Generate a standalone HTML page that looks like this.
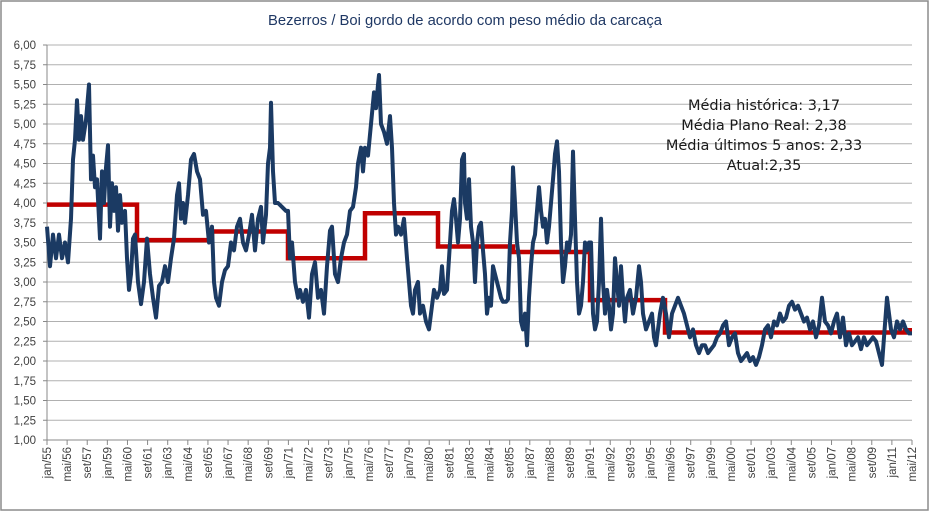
<!DOCTYPE html>
<html><head><meta charset="utf-8"><style>
body{margin:0;background:#fff}
svg{display:block}
text{font-family:"Liberation Sans",sans-serif}
.box text{font-family:"DejaVu Sans",sans-serif}
</style></head><body>
<svg id="s" width="930" height="512" xmlns="http://www.w3.org/2000/svg">
<rect x="1" y="1" width="927" height="509" fill="#fff" stroke="#8c8c8c" stroke-width="1.5"/>
<text x="465" y="25" text-anchor="middle" font-size="14.8" fill="#1f3864">Bezerros / Boi gordo de acordo com peso médio da carcaça</text>
<g id="grid"></g>
<g id="labels" font-size="11.5" fill="#404040"></g>
<polyline id="red" fill="none" stroke="#c00000" stroke-width="4.5"/>
<polyline id="blue" fill="none" stroke="#1b3a63" stroke-width="4" stroke-linejoin="round"/>
<g class="box" font-size="14.5" fill="#1a1a1a" text-anchor="middle">
<text x="764" y="110">Média histórica: 3,17</text>
<text x="764" y="130">Média Plano Real: 2,38</text>
<text x="764" y="150">Média últimos 5 anos: 2,33</text>
<text x="764" y="170">Atual:2,35</text>
</g>
</svg>
<script>
const NS="http://www.w3.org/2000/svg";
const y=v=>440-(v-1)*79;
const g=document.getElementById('grid'),L=document.getElementById('labels');
function el(t,a,p,txt){const e=document.createElementNS(NS,t);for(const k in a)e.setAttribute(k,a[k]);if(txt)e.textContent=txt;p.appendChild(e);return e;}
for(let i=0;i<=20;i++){const v=1+i*0.25,yy=y(v);
 if(i>0)el('line',{x1:47,x2:912,y1:yy,y2:yy,stroke:'#b0b0b0','stroke-width':1},g);
 el('line',{x1:43,x2:47,y1:yy,y2:yy,stroke:'#888'},g);
 el('text',{x:36,y:yy+4,'text-anchor':'end'},L,v.toFixed(2).replace('.',','));}
el('line',{x1:47,x2:47,y1:45,y2:440,stroke:'#888'},g);
el('line',{x1:47,x2:912,y1:440,y2:440,stroke:'#888'},g);
const mon=['jan','mai','set'];
for(let i=0;i<=43;i++){const x=47+i*865/43;const m=i*16;const yr=(55+Math.floor(m/12))%100;
 el('line',{x1:x,x2:x,y1:440,y2:445,stroke:'#888'},g);
 const lab=mon[(m%12)/4]+'/'+String(yr).padStart(2,'0');
 el('text',{x:0,y:0,'text-anchor':'end',transform:`translate(${x+4},447) rotate(-90)`},L,lab);}
const red=[[47,3.98],[137,3.98],[137,3.53],[212,3.53],[212,3.64],[288,3.64],[288,3.30],[365,3.30],[365,3.87],[438,3.87],[438,3.45],[513,3.45],[513,3.38],[590,3.38],[590,2.77],[665,2.77],[665,2.36],[905,2.36],[905,2.39],[912,2.39]];
document.getElementById('red').setAttribute('points',red.map(p=>p[0]+','+y(p[1])).join(' '));
const b=[47,3.7,50,3.2,53,3.6,56,3.3,59,3.6,62,3.3,65,3.5,68,3.25,71,3.8,73,4.55,75,4.8,77,5.3,79,4.8,81,5.1,83,4.8,86,5.05,89,5.5,91,4.3,93,4.6,95,4.2,97,4.3,100,3.55,102,4.4,104,4.0,106,4.45,108,4.73,110,3.7,112,4.25,114,3.9,116,4.2,118,3.65,120,4.1,122,3.75,125,3.9,127,3.3,129,2.9,131,3.1,133,3.55,135,3.6,138,3.0,141,2.72,144,3.0,147,3.55,150,3.1,153,2.8,156,2.55,159,2.95,162,3.0,165,3.2,168,3.0,171,3.3,174,3.55,177,4.1,179,4.25,181,3.8,183,4.0,185,3.75,188,4.1,191,4.55,194,4.62,197,4.4,200,4.3,203,3.85,206,3.9,209,3.5,212,3.7,214,3.0,216,2.8,219,2.7,222,3.0,225,3.15,228,3.2,231,3.5,234,3.4,237,3.7,240,3.8,243,3.5,246,3.4,249,3.6,252,3.85,255,3.4,258,3.8,261,3.95,263,3.5,266,3.85,268,4.5,270,4.7,271,5.27,273,4.4,275,4.0,278,4.0,282,3.95,286,3.9,288,3.9,290,3.3,292,3.5,295,3.0,298,2.8,300,2.9,303,2.75,306,2.9,309,2.55,312,3.1,315,3.25,318,2.8,321,2.9,324,2.6,327,3.2,330,3.65,332,3.7,335,3.1,338,3.0,341,3.3,344,3.5,347,3.6,350,3.9,353,3.95,356,4.2,358,4.5,361,4.7,363,4.4,365,4.7,368,4.6,371,5.0,374,5.4,376,5.2,378,5.5,379,5.62,381,5.0,384,4.9,387,4.75,390,5.1,392,4.7,394,4.0,396,3.6,398,3.7,401,3.6,404,3.8,407,3.3,409,3.0,411,2.7,413,2.6,415,2.9,418,3.0,420,2.6,423,2.7,426,2.5,429,2.4,432,2.7,434,2.9,437,2.8,440,2.9,442,3.2,444,2.85,447,2.9,450,3.5,452,3.9,454,4.05,456,3.8,458,3.5,460,3.8,462,4.55,464,4.62,465,4.0,467,3.8,469,4.3,471,3.7,473,3.5,475,3.0,477,3.5,479,3.7,481,3.75,483,3.4,485,3.1,487,2.6,489,2.8,491,2.7,493,3.2,495,3.1,497,3.0,499,2.9,501,2.8,503,2.75,506,2.75,508,2.78,510,3.5,512,3.9,513,4.45,515,4.0,517,3.5,519,3.3,521,2.5,523,2.4,525,2.6,527,2.2,529,2.8,531,3.2,533,3.5,535,3.6,537,3.9,539,4.2,541,3.9,543,3.7,545,3.8,547,3.5,549,3.7,551,4.0,553,4.3,555,4.62,557,4.78,559,4.4,561,3.5,563,3.0,565,3.2,567,3.5,569,3.4,571,3.6,573,4.65,575,3.8,577,3.0,579,2.6,581,2.7,583,3.0,585,3.5,587,3.4,589,3.5,591,3.5,593,2.6,595,2.4,597,2.5,599,3.0,601,3.8,603,3.0,605,2.6,607,2.9,609,2.7,611,2.4,613,2.6,615,3.3,617,3.0,619,2.7,621,3.2,623,2.8,625,2.5,627,2.8,630,2.9,633,2.6,636,2.8,639,3.2,641,3.0,643,2.6,646,2.4,649,2.5,652,2.6,654,2.3,656,2.2,658,2.4,660,2.6,663,2.8,666,2.6,669,2.3,672,2.6,675,2.7,678,2.8,681,2.7,684,2.6,687,2.45,690,2.3,693,2.4,696,2.2,699,2.1,702,2.2,705,2.2,708,2.1,711,2.15,714,2.2,717,2.3,720,2.35,723,2.45,726,2.5,729,2.2,732,2.3,735,2.35,738,2.1,741,2.0,744,2.05,747,2.1,750,2.0,753,2.05,756,1.95,759,2.05,762,2.2,765,2.4,768,2.45,771,2.3,774,2.5,777,2.45,780,2.6,783,2.5,786,2.55,789,2.7,792,2.75,795,2.65,798,2.7,801,2.6,804,2.5,807,2.55,810,2.4,813,2.5,816,2.3,819,2.45,822,2.8,825,2.5,828,2.45,831,2.35,834,2.5,837,2.6,840,2.3,843,2.55,846,2.2,849,2.35,852,2.2,855,2.25,858,2.3,861,2.15,864,2.3,867,2.2,870,2.25,873,2.3,876,2.25,879,2.1,882,1.95,884,2.3,887,2.8,889,2.6,891,2.4,894,2.3,897,2.5,900,2.4,903,2.5,906,2.4,909,2.35,912,2.35];
let pts=[];for(let i=0;i<b.length;i+=2)pts.push(b[i]+','+y(b[i+1]).toFixed(1));
document.getElementById('blue').setAttribute('points',pts.join(' '));
</script>
</body></html>
